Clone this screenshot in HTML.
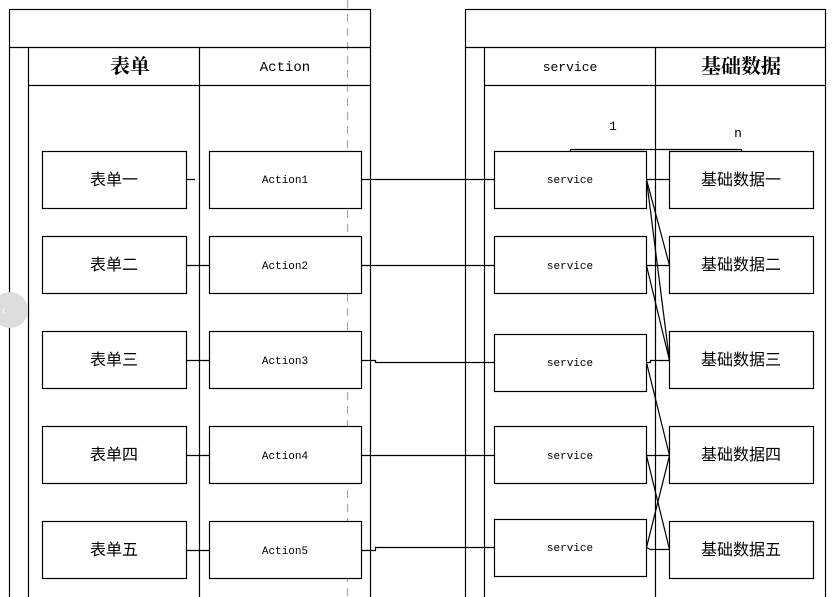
<!DOCTYPE html>
<html><head><meta charset="utf-8"><style>
html,body{margin:0;padding:0;background:#fff;}
svg{display:block;}
text{font-family:"Liberation Serif","Noto Serif CJK SC",serif;fill:#000;}
.m{font-family:"Liberation Mono","Noto Sans CJK SC",monospace;}
.c{font-family:"Liberation Sans","Noto Sans CJK SC",sans-serif;}
</style></head><body>
<svg width="838" height="597" viewBox="0 0 838 597" xmlns="http://www.w3.org/2000/svg">
<g fill="none" stroke="#000" stroke-width="1.2">
<line x1="347.5" y1="0" x2="347.5" y2="597" stroke="#aaa" stroke-dasharray="8,6"/>
<!-- left pool -->
<rect x="9.5" y="9.5" width="361" height="600"/>
<line x1="9.5" y1="47.5" x2="370.5" y2="47.5"/>
<line x1="28.5" y1="47.5" x2="28.5" y2="597"/>
<line x1="28.5" y1="85.5" x2="370.5" y2="85.5"/>
<line x1="199.5" y1="47.5" x2="199.5" y2="597"/>
<!-- right pool -->
<rect x="465.5" y="9.5" width="360" height="600"/>
<line x1="465.5" y1="47.5" x2="825.5" y2="47.5"/>
<line x1="484.5" y1="47.5" x2="484.5" y2="597"/>
<line x1="484.5" y1="85.5" x2="825.5" y2="85.5"/>
<line x1="655.5" y1="47.5" x2="655.5" y2="597"/>
<!-- boxes -->
<g fill="#fff">
<rect x="42.5" y="151.5" width="144" height="57"/>
<rect x="42.5" y="236.5" width="144" height="57"/>
<rect x="42.5" y="331.5" width="144" height="57"/>
<rect x="42.5" y="426.5" width="144" height="57"/>
<rect x="42.5" y="521.5" width="144" height="57"/>
<rect x="209.5" y="151.5" width="152" height="57"/>
<rect x="209.5" y="236.5" width="152" height="57"/>
<rect x="209.5" y="331.5" width="152" height="57"/>
<rect x="209.5" y="426.5" width="152" height="57"/>
<rect x="209.5" y="521.5" width="152" height="57"/>
<rect x="494.5" y="151.5" width="152" height="57"/>
<rect x="494.5" y="236.5" width="152" height="57"/>
<rect x="494.5" y="334.5" width="152" height="57"/>
<rect x="494.5" y="426.5" width="152" height="57"/>
<rect x="494.5" y="519.5" width="152" height="57"/>
<rect x="669.5" y="151.5" width="144" height="57"/>
<rect x="669.5" y="236.5" width="144" height="57"/>
<rect x="669.5" y="331.5" width="144" height="57"/>
<rect x="669.5" y="426.5" width="144" height="57"/>
<rect x="669.5" y="521.5" width="144" height="57"/>
</g>
<!-- connectors -->
<line x1="186.5" y1="179.5" x2="195" y2="179.5"/>
<line x1="186.5" y1="265.5" x2="209.5" y2="265.5"/>
<line x1="186.5" y1="360.5" x2="209.5" y2="360.5"/>
<line x1="186.5" y1="455.5" x2="209.5" y2="455.5"/>
<line x1="186.5" y1="550.5" x2="209.5" y2="550.5"/>
<line x1="361.5" y1="179.5" x2="494.5" y2="179.5"/>
<line x1="361.5" y1="265.5" x2="494.5" y2="265.5"/>
<polyline points="361.5,360.5 375.5,360.5 375.5,362.5 494.5,362.5"/>
<line x1="361.5" y1="455.5" x2="494.5" y2="455.5"/>
<polyline points="361.5,550.5 375.5,550.5 375.5,547.5 494.5,547.5"/>
<line x1="646.5" y1="179.5" x2="669.5" y2="179.5"/>
<line x1="646.5" y1="179.5" x2="669.5" y2="265.5"/>
<line x1="646.5" y1="179.5" x2="669.5" y2="360.5"/>
<line x1="646.5" y1="265.5" x2="669.5" y2="265.5"/>
<line x1="646.5" y1="265.5" x2="669.5" y2="360.5"/>
<polyline points="646.5,362.5 650.5,362.5 650.5,360.5 669.5,360.5"/>
<line x1="646.5" y1="362.5" x2="669.5" y2="455.5"/>
<line x1="646.5" y1="455.5" x2="669.5" y2="455.5"/>
<line x1="646.5" y1="455.5" x2="669.5" y2="549.5"/>
<polyline points="646.5,547.5 650.5,549.5 669.5,549.5"/>
<line x1="646.5" y1="547.5" x2="669.5" y2="455.5"/>
<polyline points="570.5,151 570.5,149.5 741.5,149.5 741.5,151"/>
</g>
<circle cx="10" cy="310" r="18" fill="#ddd"/>
<text x="2" y="314" font-size="11" fill="#fff" class="c" style="fill:#fff">‹</text>
<g text-anchor="middle">
<text x="130" y="73" font-size="20" font-weight="bold">表单</text>
<text x="285" y="71" font-size="14" class="m">Action</text>
<text x="570" y="71" font-size="13" class="m">service</text>
<text x="741" y="73" font-size="20" font-weight="bold">基础数据</text>
<text x="613" y="130" font-size="13" class="m">1</text>
<text x="738" y="137" font-size="13" class="m">n</text>
<g font-size="16" class="c">
<text x="114" y="185" class="c">表单一</text>
<text x="114" y="270" class="c">表单二</text>
<text x="114" y="365" class="c">表单三</text>
<text x="114" y="460" class="c">表单四</text>
<text x="114" y="555" class="c">表单五</text>
<text x="741" y="185" class="c">基础数据一</text>
<text x="741" y="270" class="c">基础数据二</text>
<text x="741" y="365" class="c">基础数据三</text>
<text x="741" y="460" class="c">基础数据四</text>
<text x="741" y="555" class="c">基础数据五</text>
</g>
<g font-size="11" class="m">
<text x="285" y="183" class="m">Action1</text>
<text x="285" y="269" class="m">Action2</text>
<text x="285" y="364" class="m">Action3</text>
<text x="285" y="459" class="m">Action4</text>
<text x="285" y="554" class="m">Action5</text>
<text x="570" y="183" class="m">service</text>
<text x="570" y="269" class="m">service</text>
<text x="570" y="366" class="m">service</text>
<text x="570" y="459" class="m">service</text>
<text x="570" y="551" class="m">service</text>
</g>
</g>
</svg>
</body></html>
